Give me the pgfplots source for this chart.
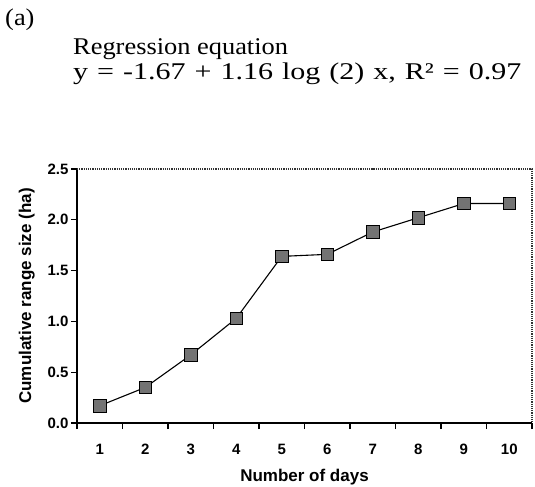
\documentclass[border=0pt]{standalone}
\usepackage{fontspec}
\setmainfont{Liberation Serif}
\newfontfamily\arial{Liberation Sans}
\usepackage{pgfplots}
\pgfplotsset{compat=1.18}

\begin{document}
\begin{tikzpicture}
\useasboundingbox (-77bp,-64bp) rectangle (458bp,423bp);
\begin{axis}[
  at={(0,0)}, anchor=south west,
  scale only axis, width=455bp, height=254bp,
  xmin=0.5, xmax=10.5, ymin=0, ymax=2.5,
  axis x line*=bottom, axis y line*=left,
  axis line style={black, line width=1.4bp},
  xtick={1,...,10}, minor xtick={0.5,1.5,...,10.5},
  ytick={0,0.5,...,2.5},
  yticklabel style={/pgf/number format/fixed, /pgf/number format/fixed zerofill, /pgf/number format/precision=1},
  major x tick style={draw=none},
  minor x tick style={black, line width=1.2bp},
  minor tick length=6bp,
  y tick style={black, line width=1.2bp},
  major tick length=6bp,
  tick align=outside,
  xticklabel shift=12bp,
  yticklabel shift=-1bp,
  /pgf/number format/assume math mode=true,
  ticklabel style={font=\arial\bfseries\fontsize{15bp}{17bp}\selectfont},
  xlabel={Number of days}, ylabel={Cumulative range size (ha)},
  label style={font=\arial\bfseries\fontsize{17bp}{19bp}\selectfont},
  xlabel style={yshift=-7bp},
  ylabel style={yshift=6bp},
  clip=false,
]
\addplot[black, line width=1.1bp, mark=square*, mark size=6.2bp,
  mark options={fill=black!55, draw=black, line width=0.8bp}]
  coordinates {(1,0.17)(2,0.35)(3,0.67)(4,1.03)(5,1.64)(6,1.66)(7,1.88)(8,2.02)(9,2.16)(10,2.16)};
\draw[black!80, densely dotted, line width=1.2bp] (rel axis cs:0,1) -- (rel axis cs:1,1) -- (rel axis cs:1,0);
\end{axis}
\node[anchor=base west, inner sep=0pt, xscale=1.1, font=\fontsize{24bp}{28bp}\selectfont] at (-72bp,397bp) {(a)};
\node[anchor=base west, inner sep=0pt, xscale=1.1, font=\fontsize{24bp}{28bp}\selectfont] at (-4bp,368bp) {Regression equation};
\node[anchor=base west, inner sep=0pt, xscale=1.25, font=\fontsize{24bp}{28bp}\selectfont] at (-4bp,343bp) {\spaceskip=0.3em y = -1.67 + 1.16 log (2) x, R² = 0.97};
\end{tikzpicture}
\end{document}
